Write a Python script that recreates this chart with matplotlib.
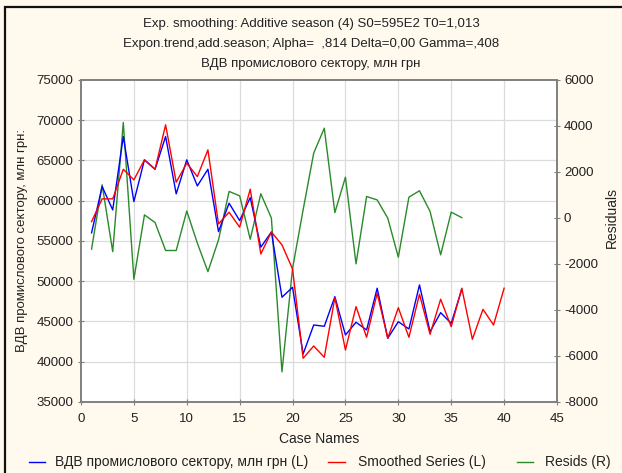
"""
Exponential smoothing chart: actual series, smoothed series (left axis)
and residuals (right axis).
"""

import matplotlib
matplotlib.use("Agg")
import matplotlib.pyplot as plt
from matplotlib.lines import Line2D
from matplotlib.patches import Rectangle

# ── Data ──────────────────────────────────────────────────────────────────────

actual = [
    56000, 61750, 58850, 67970, 59880, 65070, 63900, 67970, 60840, 65070,
    61830, 63900, 56150, 59680, 57520, 60380, 54210, 56100, 47990, 49230,
    40930, 44540, 44380, 48060, 43300, 44880, 43920, 49110, 42890, 44950,
    44040, 49520, 43710, 46070, 44750, 48980,
]
smoothed = [
    57390, 60220, 60220, 63900, 62580, 65070, 63900, 69420, 62290, 64660,
    62990, 66310, 57100, 58560, 56700, 61420, 53370, 56100, 54500, 51500,
    40400, 41930, 40520, 47940, 41430, 46820, 43010, 48490, 42890, 46690,
    43010, 48360, 43380, 47740, 44330, 49110, 42760, 46490, 44540, 49110,
]
resids = [
    -1360, 1440, -1470, 4150, -2670, 130, -200, -1420, -1420, 300,
    -1100, -2340, -960, 1150, 960, -930, 1050, -10, -6700, -2200,
    350, 2820, 3900, 230, 1770, -2000, 930, 780, -10, -1710,
    900, 1180, 280, -1610, 250, 10,
]
case_actual = list(range(1, len(actual) + 1))
case_smoothed = list(range(1, len(smoothed) + 1))
case_resids = list(range(1, len(resids) + 1))

TITLE = (
    "Exp. smoothing: Additive season (4) S0=595E2 T0=1,013\n"
    "Expon.trend,add.season; Alpha=  ,814 Delta=0,00 Gamma=,408\n"
    "ВДВ промислового сектору, млн грн"
)
LEGEND_LABELS = [
    "ВДВ промислового сектору, млн грн (L)",
    "Smoothed Series (L)",
    "Resids (R)",
]

# ── Colour palette ────────────────────────────────────────────────────────────

FIG_BG = "#fff9ee"
TEXT_COLOR = "#222222"
SPINE_COLOR = "#808080"
GRID_COLOR = "#dcdcdc"
BLUE = "#0000ff"
RED = "#ff0000"
GREEN = "#2a8a2a"

plt.rcParams["font.family"] = ["Liberation Sans", "DejaVu Sans"]
plt.rcParams["font.size"] = 9.5
plt.rcParams["axes.unicode_minus"] = False

W, H = 622, 473
fig = plt.figure(figsize=(W / 100, H / 100), dpi=100)
fig.patch.set_facecolor(FIG_BG)

# frame round the whole card
fig.patches.append(Rectangle(
    (0.0075, -0.05), 1.1, 1.036, transform=fig.transFigure,
    fill=False, edgecolor="#111111", linewidth=1.6,
))

ax = fig.add_axes([0.1302, 0.1507, 0.7653, 0.6802])
ax2 = ax.twinx()

for a in (ax, ax2):
    for s in a.spines.values():
        s.set_color(SPINE_COLOR)
        s.set_linewidth(1.2)
    a.tick_params(colors=SPINE_COLOR, labelcolor=TEXT_COLOR,
                  direction="inout", length=4, labelsize=9.5)
ax.tick_params(axis="x", pad=6)
ax2.tick_params(axis="y", pad=3)

# ── Lines ─────────────────────────────────────────────────────────────────────

ax.plot(case_actual, actual, color=BLUE, linewidth=1.0, zorder=3)
ax.plot(case_smoothed, smoothed, color=RED, linewidth=1.0, zorder=3)
ax2.plot(case_resids, resids, color=GREEN, linewidth=1.0)

# blue/red on top of green, grid under everything
ax.set_zorder(ax2.get_zorder() + 1)
ax.patch.set_visible(False)
ax2.patch.set_facecolor("white")
ax2.patch.set_visible(True)
ax2.set_xlim(0, 45)
ax2.grid(False)
for x in range(5, 45, 5):
    ax2.axvline(x, color=GRID_COLOR, linewidth=0.9, zorder=0)
for y in range(40000, 75000, 5000):
    ax2.axhline((y - 35000) / 40000 * 14000 - 8000, color=GRID_COLOR,
                linewidth=0.9, zorder=0)

ax.set_xlim(0, 45)
ax.set_xticks(range(0, 46, 5))
ax.set_ylim(35000, 75000)
ax.set_yticks(range(35000, 75001, 5000))
ax2.set_ylim(-8000, 6000)
ax2.set_yticks(range(-8000, 6001, 2000))

ax.set_xlabel("Case Names", color=TEXT_COLOR, fontsize=10, labelpad=5)
ax.set_ylabel("ВДВ промислового сектору, млн грн:", color=TEXT_COLOR,
              fontsize=9.5, labelpad=6)
fig.text(612 / W, 1 - 217 / H, "Residuals", rotation=90, ha="center",
         va="center", color=TEXT_COLOR, fontsize=10)

fig.text(0.5, 0.962, TITLE, ha="center", va="top", color=TEXT_COLOR,
         fontsize=9.5, linespacing=1.88)

# ── Legend (laid out by hand to match spacing) ───────────────────────────────

LEG_Y = 1 - 462 / H
for (x0, x1, tx), color, label in zip(
    [(29, 45, 55), (328, 345, 358), (517, 533, 545)],
    [BLUE, RED, GREEN],
    LEGEND_LABELS,
):
    fig.add_artist(Line2D([x0 / W, x1 / W], [LEG_Y, LEG_Y], color=color,
                          linewidth=1.0, transform=fig.transFigure))
    fig.text(tx / W, LEG_Y, label, ha="left", va="center",
             color=TEXT_COLOR, fontsize=10)

fig.savefig("out.png", dpi=100, facecolor=FIG_BG)
plt.close(fig)
